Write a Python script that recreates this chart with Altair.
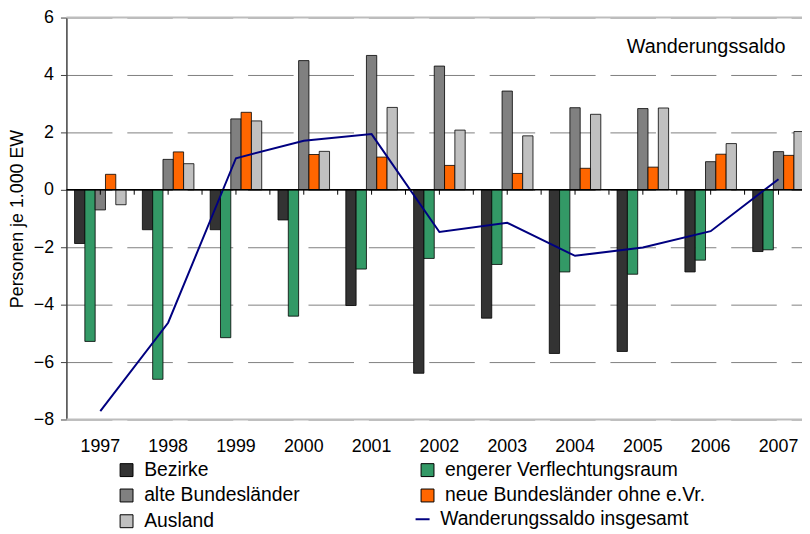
import altair as alt
import pandas as pd

years = ["1997", "1998", "1999", "2000", "2001", "2002", "2003", "2004", "2005", "2006", "2007"]
series_names = ["Bezirke", "engerer Verflechtungsraum", "alte Bundesländer",
                "neue Bundesländer ohne e.Vr.", "Ausland"]
bezirke = [-1.87, -1.39, -1.39, -1.05, -4.03, -6.39, -4.47, -5.70, -5.63, -2.86, -2.15]
engerer = [-5.28, -6.60, -5.15, -4.40, -2.76, -2.39, -2.60, -2.86, -2.94, -2.45, -2.09]
alte = [-0.70, 1.06, 2.47, 4.50, 4.68, 4.31, 3.44, 2.86, 2.83, 0.98, 1.33]
neue = [0.54, 1.32, 2.70, 1.23, 1.14, 0.85, 0.57, 0.75, 0.79, 1.24, 1.20]
ausland = [-0.52, 0.91, 2.40, 1.34, 2.87, 2.08, 1.88, 2.63, 2.85, 1.61, 2.03]
total_name = "Wanderungssaldo insgesamt"
total = [-7.71, -4.63, 1.10, 1.71, 1.94, -1.47, -1.15, -2.30, -2.01, -1.44, 0.37]
bar_colors = ["#333333", "#339966", "#808080", "#FF6600", "#C0C0C0"]
line_color = "#000080"
y_ticks = [-8, -6, -4, -2, 0, 2, 4, 6]
annotation = "Wanderungssaldo"
y_title = "Personen je 1.000 EW"

FONT = "Liberation Sans"
W, H = 743, 406
RANGE_W = 753.5

rows = []
for i, yr in enumerate(years):
    for s, vals in zip(series_names, [bezirke, engerer, alte, neue, ausland]):
        rows.append({"Jahr": yr, "Reihe": s, "Wert": vals[i]})
bars_df = pd.DataFrame(rows)
line_df = pd.DataFrame({"Jahr": years, "Linie": [total_name] * len(years), "Wert": total})
tick_df = pd.DataFrame({"t": [k * 0.5 for k in range(0, 2 * len(years))]})
text_df = pd.DataFrame({"label": [annotation]})

x_scale = alt.Scale(domain=years, range=[0, RANGE_W], paddingInner=0.24, paddingOuter=0.12)
y_scale = alt.Scale(domain=[-8, 6], nice=False, zero=False)

y_axis = alt.Axis(values=y_ticks, grid=True, gridDash=[46, 15], gridColor="#808080",
                  gridWidth=1, domain=True, domainColor="#404040", domainWidth=1.5,
                  tickColor="#404040", tickSize=6, labelPadding=7, labelFontSize=18,
                  labelColor="black", labelFont=FONT, title=y_title, titleFontSize=18,
                  titleFontWeight="normal", titleColor="black", titleFont=FONT,
                  titlePadding=7)
x_axis = alt.Axis(domain=False, ticks=False, tickSize=0, labelFontSize=18, labelAngle=0,
                  labelColor="black", labelFont=FONT, labelPadding=18, title=None,
                  grid=False)

bars = alt.Chart(bars_df).mark_bar(stroke="black", strokeWidth=0.8).encode(
    x=alt.X("Jahr:N", sort=years, scale=x_scale, axis=x_axis),
    xOffset=alt.XOffset("Reihe:N", sort=series_names,
                        scale=alt.Scale(domain=series_names, paddingInner=0, paddingOuter=0)),
    y=alt.Y("Wert:Q", scale=y_scale, axis=y_axis),
    color=alt.Color("Reihe:N", scale=alt.Scale(domain=series_names, range=bar_colors),
                    legend=alt.Legend(orient="none", legendX=51, legendY=447, columns=2,
                                      direction="horizontal",
                                      columnPadding=119, rowPadding=5, padding=0,
                                      title=None, symbolType="square", symbolSize=170,
                                      symbolStrokeColor="black", symbolStrokeWidth=1,
                                      labelFontSize=19.5, labelFont=FONT, labelColor="black",
                                      labelOffset=8, labelLimit=400)),
)

line = alt.Chart(line_df).mark_line(strokeWidth=2).encode(
    x=alt.X("Jahr:N", sort=years, scale=x_scale, axis=x_axis),
    y=alt.Y("Wert:Q", scale=y_scale, axis=y_axis),
    stroke=alt.Stroke("Linie:N", scale=alt.Scale(domain=[total_name], range=[line_color]),
                      legend=alt.Legend(orient="none", legendX=350, legendY=497, padding=0,
                                        title=None, symbolType="stroke", symbolSize=200,
                                        symbolStrokeWidth=2, labelFontSize=19.5,
                                        labelFont=FONT, labelColor="black", labelOffset=8,
                                        labelLimit=400)),
)

zero_rule = alt.Chart(text_df).mark_rule(color="black", strokeWidth=1.5).encode(
    y=alt.Y(datum=0, scale=y_scale))
border_rules = alt.Chart(pd.DataFrame({"v": [y_ticks[0], y_ticks[-1]]})).mark_rule(
    color="#BDBDBD", strokeWidth=2).encode(y=alt.Y("v:Q", scale=y_scale))

ticks = alt.Chart(tick_df).mark_rule(color="black", strokeWidth=1).encode(
    x=alt.X("t:Q", scale=alt.Scale(domain=[-0.5, len(years) - 0.5], range=[0, RANGE_W], nice=False, zero=False), axis=None),
    y=alt.Y(datum=0, scale=y_scale),
    y2=alt.Y2(datum=-0.17),
)

label = alt.Chart(text_df).mark_text(align="left", baseline="middle", fontSize=20,
                                     font=FONT, color="black").encode(
    x=alt.value(566), y=alt.value(30), text="label:N")

main = alt.layer(border_rules, bars, line, zero_rule, label)

chart = alt.layer(main, ticks).resolve_scale(
    x="independent"
).properties(
    width=W, height=H, autosize="none",
    padding={"left": 59, "top": 7, "right": 0, "bottom": 113},
    background="white",
).configure_view(stroke=None)

chart.save("out.html", embed_options={"renderer": "svg", "actions": False})
